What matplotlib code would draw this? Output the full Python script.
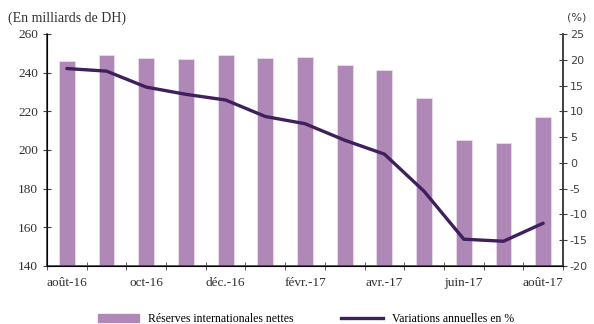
import numpy as np
import matplotlib.pyplot as plt
from matplotlib.lines import Line2D
from matplotlib.patches import Patch

## Data ##################################################################
mois      = ['août-16', 'sept.-16', 'oct-16', 'nov.-16', 'déc.-16', 'janv.-17', 'févr.-17',
             'mars-17', 'avr.-17', 'mai-17', 'juin-17', 'juil.-17', 'août-17']
reserves  = [246.0, 249.0, 247.6, 247.0, 249.0, 247.6, 248.0, 243.8, 241.3, 226.8, 205.3, 203.8, 217.2]  # milliards DH
variation = [18.3, 17.8, 14.7, 13.3, 12.2, 9.0, 7.6, 4.4, 1.7, -5.5, -14.8, -15.2, -11.7]  # %
## Style #################################################################
cBar  = '#B088B8'
cLine = '#3F1F5C'
cAxe  = '#404040'
serif = 'Liberation Serif'
plt.rcParams['axes.unicode_minus'] = False

x = np.arange(len(mois))

fig = plt.figure(figsize=(5.94, 3.24), dpi=100)
ax  = fig.add_axes([47/594, 1-266/324, (563-47)/594, (266-34)/324])
ax.bar(x, reserves, width=0.4, color=cBar, edgecolor='#E8DDEB', linewidth=0.6, zorder=2)
ax.set_ylim(140, 260)
ax.set_yticks(np.arange(140, 261, 20))
ax.set_xlim(-0.5, len(mois)-0.5)
ax.set_xticks(x[::2])
ax.set_xticklabels(mois[::2], fontfamily=serif, fontsize=9.5, color='#303030')
ax.set_xticks(np.arange(-0.5, len(mois)), minor=True)
ax.tick_params(axis='x', which='major', length=0, pad=8)
ax.tick_params(axis='x', which='minor', direction='inout', length=6, color=cAxe)
ax.tick_params(axis='y', direction='inout', length=6, color=cAxe, labelsize=9.5, labelcolor='#303030')
for lab in ax.get_yticklabels():
    lab.set_fontfamily(serif)
ax.spines['top'].set_visible(False)
for s in ['left', 'bottom', 'right']:
    ax.spines[s].set_color(cAxe)
    ax.spines[s].set_linewidth(1.2)

ax2 = ax.twinx()
ax2.plot(x, variation, color=cLine, linewidth=2.4, solid_capstyle='round', zorder=3)
ax2.set_ylim(-20, 25)
ax2.set_yticks(np.arange(-20, 26, 5))
ax2.tick_params(axis='y', direction='inout', length=6, color=cAxe, labelsize=8, pad=2, labelcolor='#404040')
ax2.spines['top'].set_visible(False)
ax2.spines['right'].set_color(cAxe)
ax2.spines['right'].set_linewidth(1.2)

fig.text(8/594, 1-18/324, '(En milliards de DH)', fontfamily=serif, fontsize=10, color='#303030', va='center')
fig.text(577/594, 1-18/324, '(%)', fontsize=8, color='#404040', va='center', ha='center')

handles = [Patch(color=cBar), Line2D([0], [0], color=cLine, linewidth=2.4)]
fig.legend(handles, ['Réserves internationales nettes', 'Variations annuelles en %'],
           loc='center', bbox_to_anchor=(0.515, 1-319/324), ncol=2, frameon=False,
           prop={'family': serif, 'size': 8.5}, handlelength=3.5, columnspacing=4, borderpad=0)

fig.savefig('out.png', dpi=100)
